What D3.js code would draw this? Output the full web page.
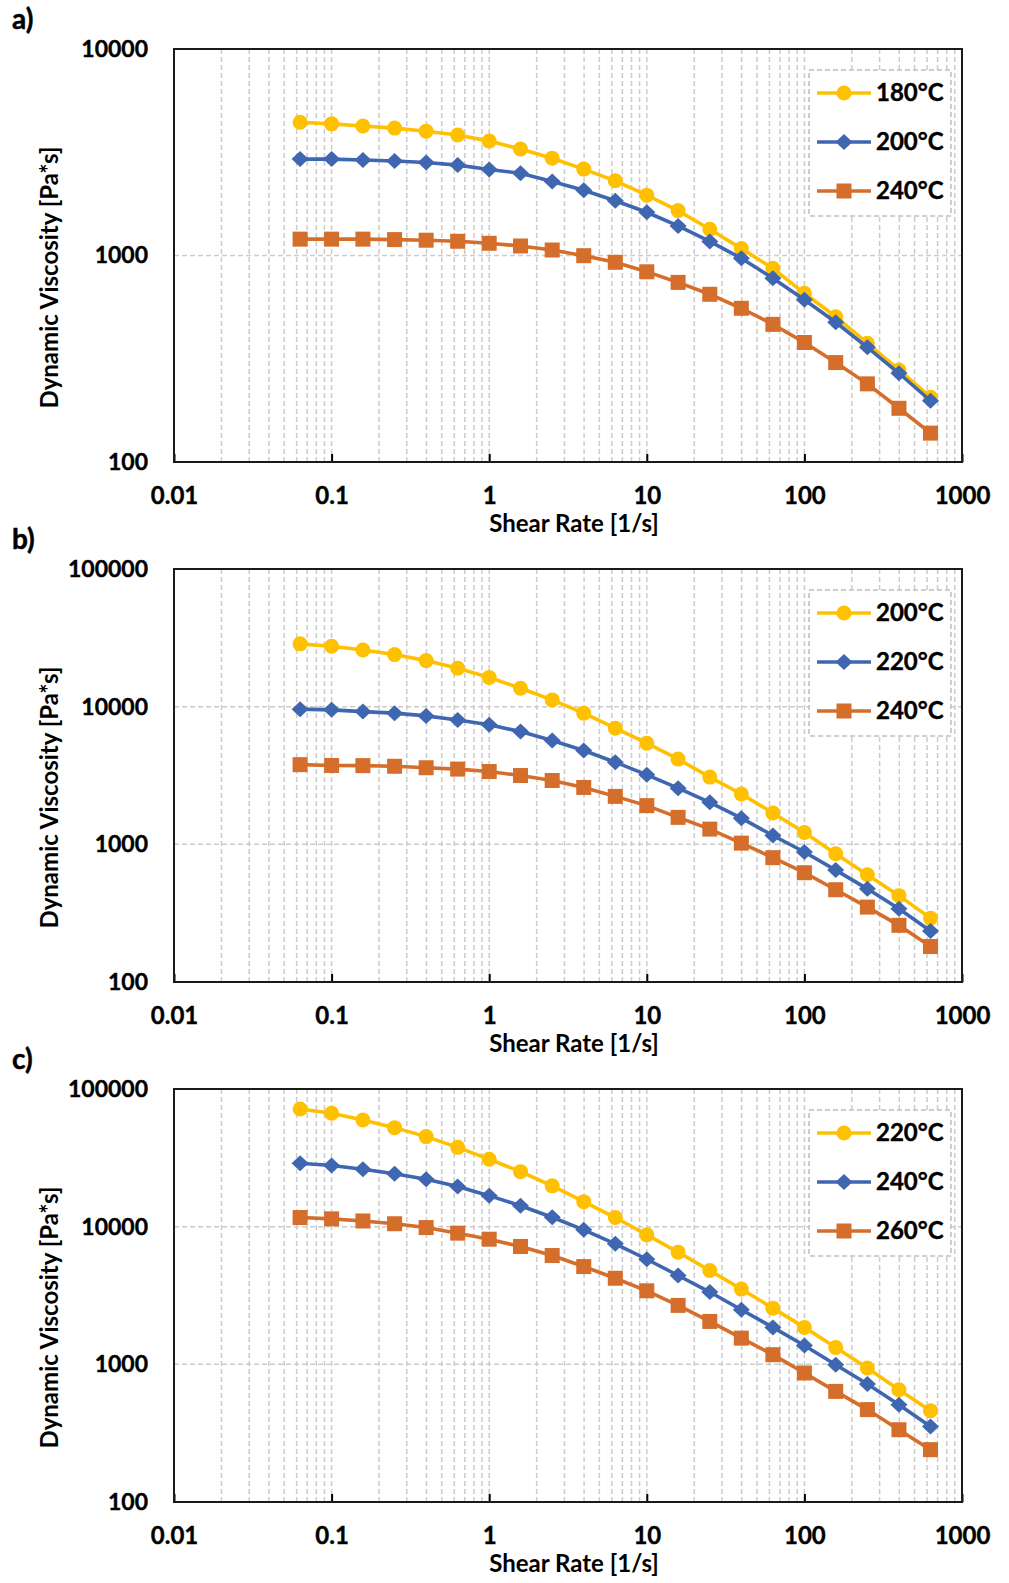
<!DOCTYPE html>
<html>
<head>
<meta charset="utf-8">
<script src="https://cdn.jsdelivr.net/npm/d3@7"></script>
<style>
  body { margin: 0; background: #fff; }
  text { font-family: Lato, "Open Sans", sans-serif; font-weight: bold; fill: #000; }
</style>
</head>
<body>
<div id="container"></div>
<script>
// shear rates (1/s), same for every curve
let shearRate = [0.0631, 0.1, 0.158, 0.251, 0.398, 0.631, 1, 1.58, 2.51, 3.98, 6.31,
  10, 15.8, 25.1, 39.8, 63.1, 100, 158, 251, 398, 631];

// panel a
let a180 = [4420, 4340, 4240, 4140, 4000, 3830, 3580, 3280, 2960, 2620, 2300,
  1960, 1650, 1340, 1080, 867, 656, 505, 376, 279, 206];
let a200 = [2930, 2930, 2900, 2870, 2820, 2740, 2610, 2500, 2280, 2070, 1840,
  1620, 1390, 1170, 969, 776, 610, 475, 359, 269, 198];
let a240 = [1200, 1200, 1200, 1194, 1186, 1172, 1146, 1112, 1063, 998, 927,
  834, 741, 649, 555, 464, 379, 303, 239, 182, 138];

// panel b
let b200 = [28600, 27500, 25800, 23900, 21600, 19000, 16300, 13600, 11200, 8970, 6980,
  5430, 4160, 3080, 2320, 1690, 1220, 855, 601, 424, 291];
let b220 = [9590, 9480, 9210, 8970, 8570, 8010, 7380, 6590, 5670, 4800, 3950,
  3200, 2560, 2020, 1550, 1160, 880, 650, 475, 340, 235];
let b240 = [3790, 3740, 3730, 3690, 3600, 3520, 3380, 3160, 2910, 2590, 2230,
  1910, 1570, 1290, 1020, 800, 622, 468, 350, 258, 181];

// panel c
let c220 = [71600, 66600, 59600, 52400, 45100, 37700, 30900, 25100, 19800, 15200, 11650,
  8720, 6530, 4800, 3520, 2560, 1855, 1327, 940, 654, 461];
let c240 = [28900, 27800, 26100, 24200, 22100, 19600, 16800, 14200, 11700, 9480, 7500,
  5800, 4420, 3350, 2490, 1855, 1371, 994, 719, 509, 354];
let c260 = [11650, 11400, 11000, 10500, 9850, 8970, 8110, 7180, 6170, 5130, 4220,
  3420, 2680, 2050, 1550, 1175, 865, 636, 469, 335, 240];

let panelNames = ["a)", "b)", "c)"];
let legendA = ["180°C", "200°C", "240°C"];
let legendB = ["200°C", "220°C", "240°C"];
let legendC = ["220°C", "240°C", "260°C"];
let yDomainA = [100, 10000];
let yDomainB = [100, 100000];
let yDomainC = [100, 100000];
let xTickValues = [0.01, 0.1, 1, 10, 100, 1000];

let w = 1009;
let h = 1583;
let colors = ["#ffc000", "#3f66b0", "#d56d2b"];
let shapes = ["circle", "diamond", "square"];

let viz = d3.select("#container")
  .append("svg")
    .attr("width", w)
    .attr("height", h)
    .style("background-color", "white");

let panels = [
  { name: panelNames[0], top: 49, yDomain: yDomainA, names: legendA, series: [a180, a200, a240] },
  { name: panelNames[1], top: 569, yDomain: yDomainB, names: legendB, series: [b200, b220, b240] },
  { name: panelNames[2], top: 1089, yDomain: yDomainC, names: legendC, series: [c220, c240, c260] }
];

let left = 174, right = 962, plotH = 413;

let xScale = d3.scaleLog().domain([0.01, 1000]).range([left, right]);

function drawMarker(sel, shape, color) {
  if (shape == "circle") {
    sel.append("circle").attr("r", 7.5).attr("fill", color);
  } else if (shape == "diamond") {
    sel.append("path").attr("d", "M0,-8L8.5,0L0,8L-8.5,0Z").attr("fill", color);
  } else {
    sel.append("rect").attr("x", -7.5).attr("y", -7.5).attr("width", 15).attr("height", 15).attr("fill", color);
  }
}

panels.forEach(function(p) {
  let g = viz.append("g");
  let top = p.top, bottom = p.top + plotH;
  let yScale = d3.scaleLog().domain(p.yDomain).range([bottom, top]);
  let yMajor = [];
  for (let v = p.yDomain[0]; v <= p.yDomain[1]; v *= 10) yMajor.push(v);

  // vertical grid (major + minor)
  g.selectAll(".vgrid").data(xScale.ticks().filter(function(d) { return d > 0.01 && d < 1000; }))
    .enter().append("line")
      .attr("x1", function(d) { return xScale(d); })
      .attr("x2", function(d) { return xScale(d); })
      .attr("y1", top).attr("y2", bottom)
      .attr("stroke", "#cccccc").attr("stroke-width", 1.5)
      .attr("stroke-dasharray", "5,3");

  // horizontal grid (major only)
  g.selectAll(".hgrid").data(yMajor.slice(1, -1))
    .enter().append("line")
      .attr("x1", left).attr("x2", right)
      .attr("y1", function(d) { return yScale(d); })
      .attr("y2", function(d) { return yScale(d); })
      .attr("stroke", "#cccccc").attr("stroke-width", 1.5)
      .attr("stroke-dasharray", "5,3");

  // axes
  let xAxis = g.append("g").attr("transform", "translate(0," + bottom + ")")
    .call(d3.axisBottom(xScale).tickValues(xTickValues).tickSizeInner(-8).tickSizeOuter(0)
      .tickPadding(25).tickFormat(function(d) { return String(d); }));
  xAxis.select(".domain").remove();
  xAxis.selectAll("line").attr("stroke", "#000").attr("stroke-width", 2);
  xAxis.selectAll("text").style("font-size", "24px").style("font-family", "Lato").style("font-weight", "bold")
    .attr("fill", "#000").attr("stroke", "#000").attr("stroke-width", 0.4);

  let yAxis = g.append("g").attr("transform", "translate(" + left + ",0)")
    .call(d3.axisLeft(yScale).tickValues(yMajor).tickSize(0).tickPadding(26)
      .tickFormat(function(d) { return String(Math.round(d)); }));
  yAxis.select(".domain").remove();
  yAxis.selectAll("text").style("font-size", "23px").style("font-family", "Lato").style("font-weight", "bold")
    .attr("fill", "#000").attr("stroke", "#000").attr("stroke-width", 0.4);

  // frame
  g.append("rect")
    .attr("x", left).attr("y", top).attr("width", right - left).attr("height", plotH)
    .attr("fill", "none").attr("stroke", "#1a1a1a").attr("stroke-width", 2);

  // series
  let line = d3.line()
    .x(function(d) { return xScale(d[0]); })
    .y(function(d) { return yScale(d[1]); });

  p.series.forEach(function(vals, si) {
    let pts = shearRate.map(function(x, i) { return [x, vals[i]]; });
    g.append("path").datum(pts)
      .attr("d", line)
      .attr("fill", "none")
      .attr("stroke", colors[si])
      .attr("stroke-width", 3.6);
    g.selectAll(".m" + si).data(pts).enter().append("g")
      .attr("transform", function(d) { return "translate(" + xScale(d[0]) + "," + yScale(d[1]) + ")"; })
      .each(function() { drawMarker(d3.select(this), shapes[si], colors[si]); });
  });

  // legend
  let lg = g.append("g");
  lg.append("rect")
    .attr("x", 809).attr("y", top + 21).attr("width", 142).attr("height", 146)
    .attr("fill", "white").attr("stroke", "#bfbfbf").attr("stroke-width", 1.5)
    .attr("stroke-dasharray", "5,3");
  p.names.forEach(function(n, i) {
    let ly = top + 44 + i * 49;
    lg.append("line").attr("x1", 817).attr("x2", 871).attr("y1", ly).attr("y2", ly)
      .attr("stroke", colors[i]).attr("stroke-width", 3.6);
    let mk = lg.append("g").attr("transform", "translate(844," + ly + ")");
    drawMarker(mk, shapes[i], colors[i]);
    lg.append("text").attr("x", 876).attr("y", ly).attr("dy", "0.35em")
      .attr("stroke", "#000").attr("stroke-width", 0.4)
      .style("font-size", "24px").text(n);
  });

  // axis titles
  g.append("text")
    .attr("x", (left + right) / 2 + 6).attr("y", bottom + 70)
    .attr("text-anchor", "middle").style("font-size", "24px")
    .text("Shear Rate [1/s]");
  g.append("text")
    .attr("transform", "translate(58," + (top + plotH / 2 + 22) + ") rotate(-90)")
    .attr("text-anchor", "middle").style("font-size", "24px")
    .text("Dynamic Viscosity [Pa*s]");

  // panel label
  g.append("text").attr("x", 12).attr("y", top - 20)
    .attr("stroke", "#000").attr("stroke-width", 0.5)
    .style("font-size", "28px").text(p.name);
});
</script>
</body>
</html>
